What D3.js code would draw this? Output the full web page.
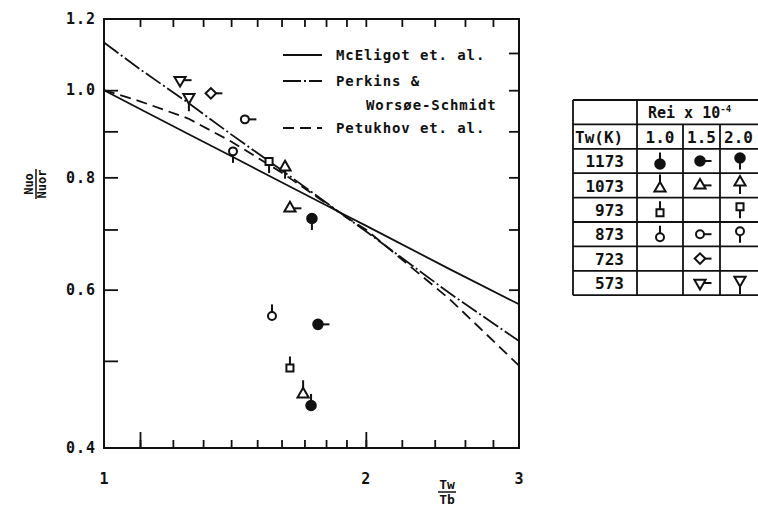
<!DOCTYPE html>
<html>
<head>
<meta charset="utf-8">
<script src="https://cdn.jsdelivr.net/npm/d3@7"></script>
<style>
  body { margin: 0; background: #fff; }
  svg { display: block; }
  text { font-family: "DejaVu Sans Mono", "Liberation Mono", monospace; fill: #111; font-weight: bold; }
</style>
</head>
<body>
<div id="chart"></div>
<script>
//// DATA ///////////////////////////////////////////////////////////////////////
// correlation curves (Nuo/Nuor against Tw/Tb)
var curveX = [1, 1.1, 1.25, 1.4, 1.6, 1.9, 2, 2.5, 3];
var mcEligotY = [1.0, 0.953, 0.894, 0.845, 0.79, 0.725, 0.707, 0.632, 0.578];
var perkinsY = [1.13, 1.055, 0.968, 0.893, 0.815, 0.722, 0.697, 0.594, 0.526];
var petukhovY = [1.0, 0.972, 0.93, 0.877, 0.81, 0.722, 0.70, 0.585, 0.494];

// measured points: wall temperature, Rei x 10^-4, Tw/Tb, Nuo/Nuor
var pointTw = [573, 573, 723, 873, 873, 873, 973, 973, 1073, 1073, 1073, 1173, 1173, 1173];
var pointRe = [1.5, 2.0, 1.5, 1.5, 2.0, 1.0, 2.0, 1.0, 2.0, 1.5, 1.0, 2.0, 1.5, 1.0];
var pointX = [1.223, 1.252, 1.327, 1.452, 1.407, 1.560, 1.548, 1.636, 1.615, 1.636, 1.694, 1.734, 1.762, 1.730];
var pointY = [1.026, 0.982, 0.992, 0.928, 0.855, 0.561, 0.833, 0.491, 0.821, 0.739, 0.459, 0.720, 0.549, 0.446];

// table rows / columns
var tableTw = [1173, 1073, 973, 873, 723, 573];
var tableRe = [1.0, 1.5, 2.0];

// ticks and labels
var xLabels = [1, 2, 3];
var xMinor = [1.1, 1.2, 1.3, 1.4, 1.5, 1.6, 1.7, 1.8, 1.9, 2, 2.2, 2.4, 2.6, 2.8];
var yLabels = [1.2, 1.0, 0.8, 0.6, 0.4];
var yTicksLeft = [1.0, 0.9, 0.8, 0.7, 0.6, 0.5];
var yTicksRight = [1.1, 1.0, 0.9, 0.8, 0.7, 0.6];

var legendNames = ["McEligot  et. al.", "Perkins &", "Petukhov et. al."];


//// SETTINGS ///////////////////////////////////////////////////////////////////
var width = 758, height = 511;
var ink = "#111";

var x = d3.scaleLog().domain([1, 3]).range([104, 519]);
var y = d3.scaleLog().domain([0.4, 1.2]).range([448, 19]);

var shapeOf = { 1173: "disc", 1073: "up", 973: "square", 873: "ring", 723: "diamond", 573: "down" };
var tailOf = { "1": [0, -1], "1.5": [1, 0], "2": [0, 1] };


//// SETUP //////////////////////////////////////////////////////////////////////
var svg = d3.select("#chart").append("svg")
            .attr("width", width)
            .attr("height", height);

svg.append("rect").attr("width", width).attr("height", height).attr("fill", "#fff");

// plot frame
svg.append("rect")
    .attr("x", x(1)).attr("y", y(1.2))
    .attr("width", x(3) - x(1)).attr("height", y(0.4) - y(1.2))
    .attr("fill", "none").attr("stroke", ink).attr("stroke-width", 2);

// inward tick marks, top and bottom
svg.append("g").attr("transform", "translate(0," + y(0.4) + ")")
    .call(d3.axisBottom(x).tickValues(xMinor).tickSize(-8).tickFormat(""))
    .call(function(g) { g.select(".domain").remove(); });
svg.append("g").attr("transform", "translate(0," + y(1.2) + ")")
    .call(d3.axisTop(x).tickValues(xMinor).tickSize(-8).tickFormat(""))
    .call(function(g) { g.select(".domain").remove(); });
// the longer ones at the bottom
svg.append("g").attr("transform", "translate(0," + y(0.4) + ")")
    .call(d3.axisBottom(x).tickValues([1.1, 2]).tickSize(-16).tickFormat(""))
    .call(function(g) { g.select(".domain").remove(); });

svg.append("g").attr("transform", "translate(" + x(1) + ",0)")
    .call(d3.axisLeft(y).tickValues(yTicksLeft).tickSize(-14).tickFormat(""))
    .call(function(g) { g.select(".domain").remove(); });
svg.append("g").attr("transform", "translate(" + x(3) + ",0)")
    .call(d3.axisRight(y).tickValues(yTicksRight).tickSize(-10).tickFormat(""))
    .call(function(g) { g.select(".domain").remove(); });

svg.selectAll(".tick line").attr("stroke", ink).attr("stroke-width", 1.8);

// tick labels
svg.selectAll(".ylab").data(yLabels).enter().append("text")
    .attr("class", "ylab")
    .attr("x", 96).attr("y", function(d) { return y(d); })
    .attr("dy", "0.35em")
    .attr("text-anchor", "end")
    .style("font-size", "15px")
    .style("letter-spacing", "1px")
    .text(d3.format(".1f"));

svg.selectAll(".xlab").data(xLabels).enter().append("text")
    .attr("class", "xlab")
    .attr("x", function(d) { return x(d); }).attr("y", 484)
    .attr("text-anchor", "middle")
    .style("font-size", "15px")
    .text(function(d) { return d; });

// axis titles, written as fractions
var yTitle = svg.append("g").attr("transform", "translate(36,184) rotate(-90)");
yTitle.append("text").attr("y", -3).attr("text-anchor", "middle")
    .style("font-size", "12px").text("Nuo");
yTitle.append("line").attr("x1", -15).attr("x2", 15).attr("y1", 0).attr("y2", 0)
    .attr("stroke", ink).attr("stroke-width", 1.5);
yTitle.append("text").attr("y", 10).attr("text-anchor", "middle")
    .style("font-size", "12px").text("Nuor");

var xTitle = svg.append("g").attr("transform", "translate(447,492)");
xTitle.append("text").attr("y", -3).attr("text-anchor", "middle")
    .style("font-size", "13px").text("Tw");
xTitle.append("line").attr("x1", -9).attr("x2", 9).attr("y1", 0).attr("y2", 0)
    .attr("stroke", ink).attr("stroke-width", 1.5);
xTitle.append("text").attr("y", 12).attr("text-anchor", "middle")
    .style("font-size", "13px").text("Tb");


//// CURVES /////////////////////////////////////////////////////////////////////
var line = d3.line()
    .x(function(d) { return x(d[0]); })
    .y(function(d) { return y(d[1]); });

var curves = [
    { ys: mcEligotY, dash: null },
    { ys: perkinsY, dash: "18,3,2,3" },
    { ys: petukhovY, dash: "11,6" }
];

curves.forEach(function(c) {
    svg.append("path")
        .datum(d3.zip(curveX, c.ys))
        .attr("d", line)
        .attr("fill", "none")
        .attr("stroke", ink)
        .attr("stroke-width", 1.8)
        .attr("stroke-dasharray", c.dash);
});

// legend
var legendRows = [55, 81, 128];
legendRows.forEach(function(ly, i) {
    svg.append("line")
        .attr("x1", 283).attr("x2", 322).attr("y1", ly).attr("y2", ly)
        .attr("stroke", ink).attr("stroke-width", 1.8)
        .attr("stroke-dasharray", curves[i].dash);
    svg.append("text")
        .attr("x", 336).attr("y", ly).attr("dy", "0.35em")
        .style("font-size", "14px").style("letter-spacing", "0.9px")
        .text(legendNames[i]);
});
svg.append("text")
    .attr("x", 366).attr("y", 105).attr("dy", "0.35em")
    .style("font-size", "14px").style("letter-spacing", "0.9px")
    .text("Worsøe-Schmidt");


//// MARKERS ////////////////////////////////////////////////////////////////////
function marker(sel, tw, re, cx, cy) {
    var g = sel.append("g").attr("transform", "translate(" + cx + "," + cy + ")");
    var shape = shapeOf[tw];
    var dir = tailOf[String(re)];
    var r0 = 3.5;
    if (shape === "up" && dir[1] < 0) r0 = 6;
    if (shape === "down" && dir[1] > 0) r0 = 6;

    // the little flag that tells the Reynolds number
    g.append("line")
        .attr("x1", dir[0] * r0).attr("y1", dir[1] * r0)
        .attr("x2", dir[0] * (r0 + 8)).attr("y2", dir[1] * (r0 + 8))
        .attr("stroke", ink).attr("stroke-width", 2);

    var sym = d3.symbol();
    var fill = "#fff", rot = 0;
    if (shape === "disc") { sym.type(d3.symbolCircle).size(72); fill = ink; }
    if (shape === "ring") sym.type(d3.symbolCircle).size(50);
    if (shape === "square") sym.type(d3.symbolSquare).size(50);
    if (shape === "up") sym.type(d3.symbolTriangle).size(54);
    if (shape === "down") { sym.type(d3.symbolTriangle).size(54); rot = 180; }
    if (shape === "diamond") { sym.type(d3.symbolSquare).size(56); rot = 45; }

    g.append("path")
        .attr("d", sym)
        .attr("transform", "rotate(" + rot + ")")
        .attr("fill", fill)
        .attr("stroke", ink)
        .attr("stroke-width", 2);
}

pointX.forEach(function(px, i) {
    marker(svg, pointTw[i], pointRe[i], x(px), y(pointY[i]));
});


//// TABLE //////////////////////////////////////////////////////////////////////
var colX = [573, 637, 683, 720, 766];
var rowH = 24.4, tableTop = 100;
var nRows = tableTw.length + 2;
var table = svg.append("g");

d3.range(nRows + 1).forEach(function(i) {
    table.append("line")
        .attr("x1", colX[0]).attr("x2", colX[4])
        .attr("y1", tableTop + i * rowH).attr("y2", tableTop + i * rowH)
        .attr("stroke", ink).attr("stroke-width", 1.8);
});
colX.forEach(function(cx, j) {
    table.append("line")
        .attr("x1", cx).attr("x2", cx)
        .attr("y1", j === 2 || j === 3 ? tableTop + rowH : tableTop)
        .attr("y2", tableTop + nRows * rowH)
        .attr("stroke", ink).attr("stroke-width", 1.8);
});

var header = table.append("text")
    .attr("x", 648).attr("y", tableTop + rowH - 6)
    .style("font-size", "15px");
header.append("tspan").text("Rei x 10");
header.append("tspan").attr("dy", -6).style("font-size", "9px").text("-4");

table.append("text")
    .attr("x", 575).attr("y", tableTop + 2 * rowH - 6)
    .style("font-size", "16px")
    .text("Tw(K)");

tableRe.forEach(function(re, j) {
    table.append("text")
        .attr("y", tableTop + 2 * rowH - 6)
        .attr("text-anchor", j === 2 ? "start" : "middle")
        .attr("x", j === 2 ? colX[3] + 4 : (colX[j + 1] + colX[j + 2]) / 2)
        .style("font-size", "16px")
        .text(d3.format(".1f")(re));
});

tableTw.forEach(function(tw, i) {
    var rowY = tableTop + (i + 2) * rowH;
    table.append("text")
        .attr("x", 624).attr("y", rowY + rowH - 6)
        .attr("text-anchor", "end")
        .style("font-size", "16px")
        .text(tw);
});

var cellX = [660, 700, 740];
pointTw.forEach(function(tw, i) {
    var row = tableTw.indexOf(tw);
    var col = tableRe.indexOf(pointRe[i]);
    var cy = tableTop + (row + 2) * rowH + rowH / 2;
    var dy = pointRe[i] === 1.0 ? 3 : (pointRe[i] === 2.0 ? -3 : 0);
    marker(table, tw, pointRe[i], cellX[col], cy + dy);
});
</script>
</body>
</html>
